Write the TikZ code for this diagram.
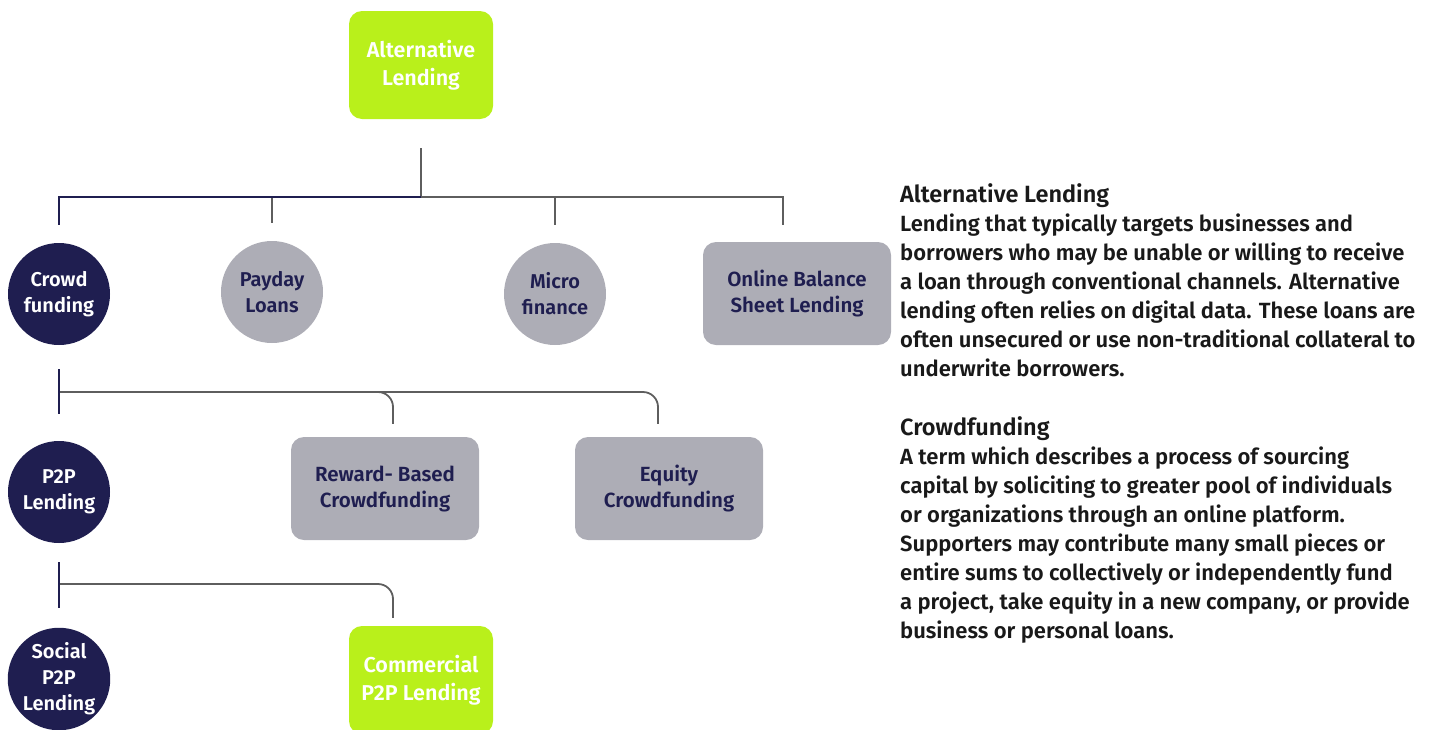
\documentclass[tikz,border=0pt]{standalone}
\usepackage{fontspec}
\setmainfont{Fira Sans}[BoldFont={* SemiBold}]
\usetikzlibrary{positioning,calc,shapes}

\definecolor{lime}{HTML}{B9F01B}
\definecolor{navy}{HTML}{1F1E50}
\definecolor{boxgray}{HTML}{ADADB6}
\definecolor{linegray}{HTML}{5E5E5E}

\begin{document}
\begin{tikzpicture}[x=1pt, y=-1pt,
    navycirc/.style={circle, fill=navy, text=white, minimum size=102pt, inner sep=0pt, align=center, font=\fontsize{20}{26}\selectfont\bfseries},
    graycirc/.style={circle, fill=boxgray, text=navy, minimum size=102pt, inner sep=0pt, align=center, font=\fontsize{20}{26}\selectfont\bfseries},
    limebox/.style={rectangle, rounded corners=13pt, fill=lime, text=white, minimum width=144pt, minimum height=108pt, align=center, font=\fontsize{21.5}{28}\selectfont\bfseries},
    graybox/.style={rectangle, rounded corners=13pt, fill=boxgray, text=navy, minimum width=188pt, minimum height=103pt, align=center, font=\fontsize{20.5}{26}\selectfont\bfseries},
    gline/.style={draw=linegray, line width=2.2pt},
    nline/.style={draw=navy, line width=2.2pt},
    desc/.style={anchor=north west, align=left, inner sep=0pt, text=black!90, font=\fontsize{22}{29}\selectfont\bfseries}]
    \useasboundingbox (0,0) rectangle (1440,729);

    % Nodes
    \node [limebox] (alt) at (421,65) {Alternative\\Lending};
    \node [navycirc] (crowd) at (59,294) {Crowd\\funding};
    \node [graycirc] (payday) at (272,292) {Payday\\Loans};
    \node [graycirc] (micro) at (555,294) {Micro\\finance};
    \node [graybox] (online) at (797,293.5) {Online Balance\\Sheet Lending};

    \node [navycirc] (p2p) at (59,492) {P2P\\Lending};
    \node [graybox] (reward) at (385,488.5) {Reward- Based\\Crowdfunding};
    \node [graybox] (equity) at (669,488.5) {Equity\\Crowdfunding};

    \node [navycirc] (social) at (59,679) {Social\\P2P\\Lending};
    \node [limebox] (commercial) at (421,680) {Commercial\\P2P Lending};

    \coordinate (bus) at (421,197);
    \coordinate (cf-bus) at (60,392);
    \coordinate (p2p-bus) at (60,584);

    % Text
    \node [desc] (altdesc) at (900,183) {{\fontsize{23.5}{29}\selectfont Alternative Lending}\\
      Lending that typically targets businesses and\\
      borrowers who may be unable or willing to receive\\
      a loan through conventional channels. Alternative\\
      lending often relies on digital data. These loans are\\
      often unsecured or use non-traditional collateral to\\
      underwrite borrowers.};
    \node [desc] (crowddesc) at (900,416) {{\fontsize{23.5}{29}\selectfont Crowdfunding}\\
      A term which describes a process of sourcing\\
      capital by soliciting to greater pool of individuals\\
      or organizations through an online platform.\\
      Supporters may contribute many small pieces or\\
      entire sums to collectively or independently fund\\
      a project, take equity in a new company, or provide\\
      business or personal loans.};

    % Lines
    \draw [gline, shorten <=29pt] (alt.south) -- (bus);
    \draw [gline, shorten >=18pt] (bus) -| (payday.north);
    \draw [gline, shorten >=18pt] (bus) -| (micro.north);
    \draw [gline, shorten >=17pt] (bus) -| ([xshift=-14pt]online.north);
    \draw [nline, shorten >=18pt] (bus) -| (crowd.north);

    \draw [nline, shorten <=24pt, shorten >=27pt] (crowd.south) -- (p2p.north);
    \draw [gline, line width=1.8pt, rounded corners=15pt, shorten >=13pt] (cf-bus) -| ([xshift=8pt]reward.north);
    \draw [gline, line width=1.8pt, rounded corners=15pt, shorten >=13pt] (cf-bus) -| ([xshift=-11pt]equity.north);

    \draw [nline, shorten <=19pt, shorten >=20pt] (p2p.south) -- (social.north);
    \draw [gline, line width=1.8pt, rounded corners=15pt, shorten >=8pt] (p2p-bus) -| ([xshift=-28pt]commercial.north);
  \end{tikzpicture}
\end{document}
